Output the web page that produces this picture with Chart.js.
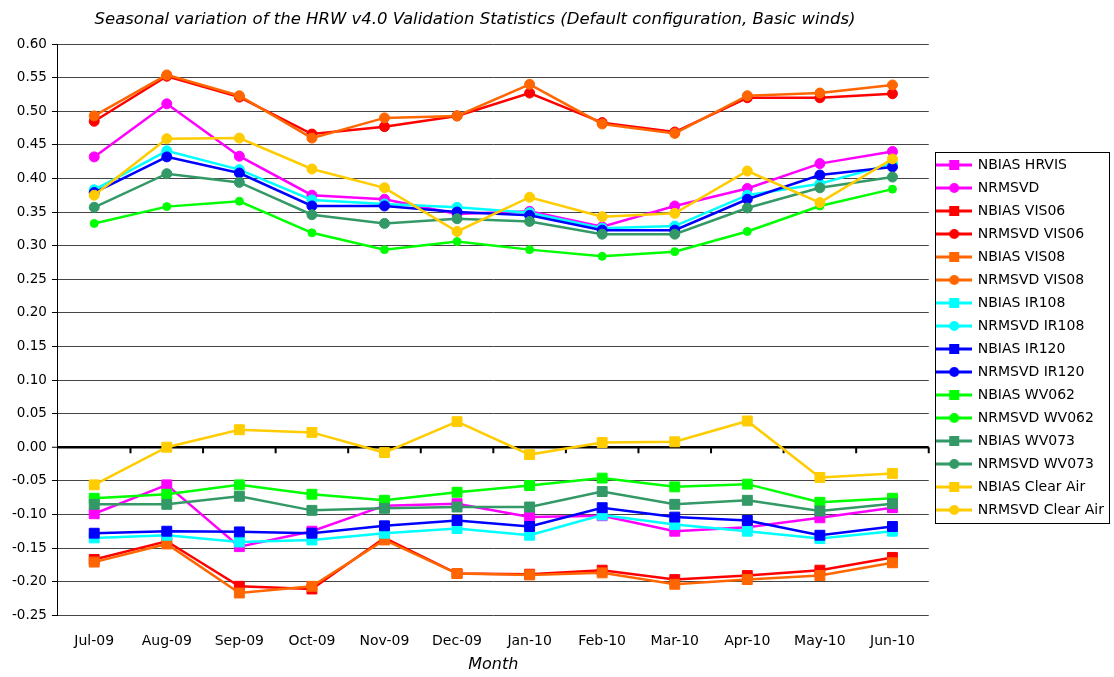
<!DOCTYPE html>
<html>
<head>
<meta charset="utf-8">
<script src="https://cdn.jsdelivr.net/npm/chart.js@4.4.0/dist/chart.umd.min.js"></script>
<style>
  html, body { margin: 0; padding: 0; background: #fff; }
</style>
</head>
<body>
<canvas id="chart" width="1114" height="677"></canvas>
<script>
// Months on the x axis
const months = ['Jul-09', 'Aug-09', 'Sep-09', 'Oct-09', 'Nov-09', 'Dec-09',
                'Jan-10', 'Feb-10', 'Mar-10', 'Apr-10', 'May-10', 'Jun-10'];

// Values
const nbiasHrvis     = [-0.099, -0.056, -0.148, -0.125, -0.087, -0.084, -0.104, -0.102, -0.125, -0.119, -0.105, -0.090];
const nrmsvdHrvis    = [0.432, 0.511, 0.433, 0.375, 0.369, 0.347, 0.351, 0.328, 0.359, 0.385, 0.422, 0.440];
const nbiasVis06     = [-0.167, -0.140, -0.207, -0.211, -0.135, -0.188, -0.189, -0.183, -0.197, -0.191, -0.183, -0.164];
const nrmsvdVis06    = [0.485, 0.552, 0.521, 0.466, 0.477, 0.493, 0.527, 0.483, 0.469, 0.520, 0.520, 0.526];
const nbiasVis08     = [-0.171, -0.144, -0.217, -0.207, -0.138, -0.188, -0.190, -0.187, -0.204, -0.197, -0.191, -0.172];
const nrmsvdVis08    = [0.493, 0.554, 0.523, 0.460, 0.490, 0.493, 0.540, 0.481, 0.467, 0.523, 0.527, 0.539];
const nbiasIr108     = [-0.135, -0.131, -0.141, -0.138, -0.128, -0.121, -0.131, -0.101, -0.115, -0.125, -0.136, -0.125];
const nrmsvdIr108    = [0.383, 0.441, 0.413, 0.368, 0.362, 0.357, 0.349, 0.326, 0.329, 0.375, 0.392, 0.422];
const nbiasIr120     = [-0.128, -0.125, -0.126, -0.128, -0.117, -0.109, -0.118, -0.090, -0.104, -0.109, -0.131, -0.118];
const nrmsvdIr120    = [0.379, 0.432, 0.408, 0.359, 0.359, 0.350, 0.345, 0.323, 0.323, 0.369, 0.405, 0.417];
const nbiasWv062     = [-0.076, -0.070, -0.056, -0.070, -0.079, -0.067, -0.057, -0.046, -0.059, -0.055, -0.082, -0.076];
const nrmsvdWv062    = [0.333, 0.358, 0.366, 0.319, 0.294, 0.306, 0.294, 0.284, 0.291, 0.321, 0.359, 0.384];
const nbiasWv073     = [-0.085, -0.085, -0.073, -0.094, -0.091, -0.089, -0.089, -0.066, -0.085, -0.079, -0.095, -0.084];
const nrmsvdWv073    = [0.357, 0.407, 0.394, 0.346, 0.333, 0.340, 0.336, 0.317, 0.317, 0.356, 0.386, 0.402];
const nbiasClearAir  = [-0.056, 0.000, 0.026, 0.022, -0.008, 0.038, -0.011, 0.007, 0.008, 0.039, -0.045, -0.039];
const nrmsvdClearAir = [0.375, 0.459, 0.460, 0.414, 0.386, 0.321, 0.372, 0.343, 0.348, 0.411, 0.364, 0.429];

const chartTitle = 'Seasonal variation of the HRW v4.0 Validation Statistics (Default configuration, Basic winds)';
const xTitle = 'Month';

// Series: label, data, colour, marker
const series = [
    ['NBIAS HRVIS', nbiasHrvis, '#FF00FF', 'rect'],
    ['NRMSVD', nrmsvdHrvis, '#FF00FF', 'circle'],
    ['NBIAS VIS06', nbiasVis06, '#FF0000', 'rect'],
    ['NRMSVD VIS06', nrmsvdVis06, '#FF0000', 'circle'],
    ['NBIAS VIS08', nbiasVis08, '#FF6600', 'rect'],
    ['NRMSVD VIS08', nrmsvdVis08, '#FF6600', 'circle'],
    ['NBIAS IR108', nbiasIr108, '#00FFFF', 'rect'],
    ['NRMSVD IR108', nrmsvdIr108, '#00FFFF', 'circle'],
    ['NBIAS IR120', nbiasIr120, '#0000FF', 'rect'],
    ['NRMSVD IR120', nrmsvdIr120, '#0000FF', 'circle'],
    ['NBIAS WV062', nbiasWv062, '#00FF00', 'rect'],
    ['NRMSVD WV062', nrmsvdWv062, '#00FF00', 'circle'],
    ['NBIAS WV073', nbiasWv073, '#339966', 'rect'],
    ['NRMSVD WV073', nrmsvdWv073, '#339966', 'circle'],
    ['NBIAS Clear Air', nbiasClearAir, '#FFCC00', 'rect'],
    ['NRMSVD Clear Air', nrmsvdClearAir, '#FFCC00', 'circle']
];

const FONT = '"DejaVu Sans", Arial, sans-serif';
Chart.defaults.font.family = FONT;
Chart.defaults.font.size = 13;
Chart.defaults.color = '#000';

// Legend symbol: short line with the marker in the middle, like Excel
function legendSymbol(color, marker) {
    const c = document.createElement('canvas');
    c.width = 36;
    c.height = 12;
    const g = c.getContext('2d');
    g.strokeStyle = color;
    g.lineWidth = 3;
    g.beginPath();
    g.moveTo(0, 6);
    g.lineTo(36, 6);
    g.stroke();
    g.fillStyle = color;
    if (marker === 'rect') {
        g.fillRect(13, 1, 10, 10);
    } else {
        g.beginPath();
        g.arc(18, 6, 5, 0, Math.PI * 2);
        g.fill();
    }
    return c;
}
const legendImages = series.map(s => legendSymbol(s[2], s[3]));

const datasets = series.map((s, i) => ({
    label: s[0],
    data: s[1],
    borderColor: s[2],
    backgroundColor: s[2],
    borderWidth: 2.5,
    pointStyle: s[3],
    pointRadius: s[3] === 'rect' ? 7 : (s[0] === 'NRMSVD WV062' ? 4 : 5),
    pointBorderWidth: 1,
    tension: 0,
    order: series.length - 1 - i // later series drawn on top
}));

const isZero = v => Math.abs(v) < 1e-9;

// Chart title and x axis title drawn by hand so they sit where the original has them
const titlesPlugin = {
    id: 'titles',
    afterDraw(chart) {
        const ctx = chart.ctx;
        const area = chart.chartArea;
        ctx.save();
        ctx.fillStyle = '#000';
        ctx.textAlign = 'center';
        ctx.textBaseline = 'middle';
        ctx.font = 'italic 16.5px ' + FONT;
        ctx.fillText(chartTitle, 475, 20);
        ctx.font = 'italic 16px ' + FONT;
        ctx.fillText(xTitle, (area.left + area.right) / 2, 665);
        ctx.restore();
    }
};

// Small tick marks hanging from the zero line at category boundaries
const zeroTicks = {
    id: 'zeroTicks',
    beforeDatasetsDraw(chart) {
        const xs = chart.scales.x;
        const y0 = chart.scales.y.getPixelForValue(0);
        const n = months.length;
        const ctx = chart.ctx;
        ctx.save();
        ctx.strokeStyle = '#000';
        ctx.lineWidth = 2;
        ctx.beginPath();
        for (let i = 1; i <= n; i++) {
            const px = xs.left + i * xs.width / n;
            ctx.moveTo(px, y0);
            ctx.lineTo(px, y0 + 6);
        }
        ctx.stroke();
        ctx.restore();
    }
};

// Border round the legend
const legendBox = {
    id: 'legendBox',
    afterDraw(chart) {
        const boxes = chart.legend.legendHitBoxes;
        if (!boxes || !boxes.length) return;
        const left = boxes[0].left - 3;
        const top = boxes[0].top - 6.5;
        const last = boxes[boxes.length - 1];
        const bottom = last.top + last.height + 5;
        let right = 0;
        boxes.forEach(b => { right = Math.max(right, b.left + b.width); });
        right += 5;
        const ctx = chart.ctx;
        ctx.save();
        ctx.strokeStyle = '#000';
        ctx.lineWidth = 1;
        ctx.strokeRect(Math.round(left) + 0.5, Math.round(top) + 0.5,
                       Math.round(right - left), Math.round(bottom - top));
        ctx.restore();
    }
};

new Chart(document.getElementById('chart'), {
    type: 'line',
    data: { labels: months, datasets: datasets },
    options: {
        responsive: false,
        animation: false,
        events: [],
        layout: { padding: { top: 44, left: 7, right: 0, bottom: 9 } },
        scales: {
            x: {
                offset: true,
                grid: { display: false, drawTicks: false },
                border: { display: false },
                ticks: { padding: 18, maxRotation: 0, autoSkip: false, color: '#000', font: { size: 14 } }
            },
            y: {
                min: -0.25,
                max: 0.6,
                ticks: {
                    stepSize: 0.05,
                    padding: 5,
                    color: '#000',
                    font: { size: 13.5 },
                    callback: v => isZero(v) ? '0.00' : v.toFixed(2)
                },
                grid: {
                    color: c => isZero(c.tick.value) ? '#000' : '#444',
                    lineWidth: c => isZero(c.tick.value) ? 2.5 : 1,
                    tickLength: 6,
                    tickColor: '#000',
                    tickWidth: 1
                },
                border: { display: true, color: '#000', width: 1 }
            }
        },
        plugins: {
            tooltip: { enabled: false },
            legend: {
                position: 'right',
                align: 'start',
                title: { display: true, text: '', font: { size: 10 }, padding: { top: 93, bottom: 0 } },
                labels: {
                    usePointStyle: true,
                    pointStyleWidth: 33,
                    padding: 9,
                    color: '#000',
                    font: { size: 14 },
                    generateLabels: chart => chart.data.datasets.map((ds, i) => ({
                        text: ds.label,
                        pointStyle: legendImages[i],
                        fillStyle: ds.borderColor,
                        strokeStyle: ds.borderColor,
                        lineWidth: 0,
                        hidden: false,
                        datasetIndex: i
                    }))
                }
            }
        }
    },
    plugins: [titlesPlugin, zeroTicks, legendBox]
});
</script>
</body>
</html>
